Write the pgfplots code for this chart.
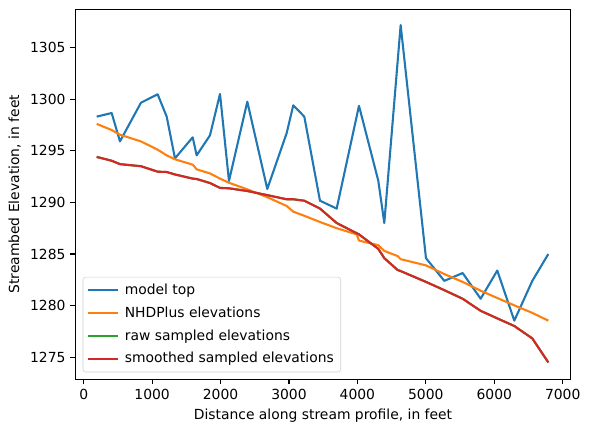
\documentclass[border=0pt]{standalone}
\usepackage{pgfplots}
\pgfplotsset{compat=1.18}
\usepackage{fontspec}
\setmainfont{DejaVu Sans}
\definecolor{tabblue}{HTML}{1F77B4}
\definecolor{taborange}{HTML}{FF7F0E}
\definecolor{tabgreen}{HTML}{2CA02C}
\definecolor{tabred}{HTML}{D62728}
\begin{document}
\begin{tikzpicture}
\begin{axis}[
  scale only axis,
  width=356.7pt, height=266.4pt,
  xmin=-123, xmax=7117, ymin=1272.87, ymax=1308.69,
  xtick={0,1000,...,7000}, ytick={1275,1280,...,1305},
  /pgf/number format/assume math mode=true,
  /pgf/number format/1000 sep={},
  tick align=outside, tick pos=left,
  major tick length=3.5pt,
  every tick/.style={black, line width=0.8pt},
  axis line style={line width=0.8pt},
  font=\fontsize{10pt}{12pt}\selectfont,
  xlabel={Distance along stream profile, in feet},
  ylabel={Streambed Elevation, in feet},
  legend cell align=left,
  legend style={draw=black!18, rounded corners=2pt, font=\fontsize{10pt}{12pt}\selectfont, at={(0.015,0.019)}, anchor=south west, inner xsep=3pt, inner ysep=3pt, row sep=3.3pt, column sep=2pt},
  legend image code/.code={\draw[#1] (0pt,0pt) -- (21.6pt,0pt);},
  every axis plot/.append style={line width=1.5pt, line join=round},
]
\addplot[tabblue] coordinates {
(190,1298.3) (409,1298.65) (530,1295.9) (837,1299.65) (1081,1300.46) (1213,1298.3)
(1334,1294.26) (1593,1296.3) (1651,1294.55) (1846,1296.5) (1992,1300.5) (2123,1292.07)
(2391,1299.75) (2683,1291.3) (2966,1296.7) (3063,1299.4) (3224,1298.3) (3453,1290.16)
(3697,1289.4) (4023,1299.35) (4305,1292.1) (4393,1288.0) (4632,1307.17) (5002,1284.6)
(5270,1282.4) (5538,1283.16) (5801,1280.67) (6044,1283.4) (6293,1278.55) (6556,1282.4)
(6790,1285.0)};
\addlegendentry{model top}
\addplot[taborange] coordinates {
(190,1297.6) (409,1297.0) (530,1296.55) (837,1295.9) (1081,1295.1) (1213,1294.55)
(1334,1294.17) (1593,1293.65) (1651,1293.2) (1846,1292.8) (1992,1292.3) (2123,1291.9)
(2391,1291.26) (2683,1290.5) (2966,1289.65) (3063,1289.1) (3224,1288.7) (3453,1288.1)
(3697,1287.5) (3990,1286.9) (4023,1286.3) (4305,1285.85) (4393,1285.3) (4588,1284.8)
(4632,1284.5) (5002,1283.9) (5270,1283.06) (5538,1282.3) (5801,1281.45) (6044,1280.74)
(6293,1280.03) (6556,1279.3) (6790,1278.55)};
\addlegendentry{NHDPlus elevations}
\addplot[tabgreen] coordinates {
(190,1294.4) (409,1294.03) (530,1293.7) (837,1293.5) (1081,1292.97) (1213,1292.94)
(1334,1292.7) (1593,1292.3) (1651,1292.26) (1846,1291.87) (1992,1291.4) (2123,1291.36)
(2391,1291.1) (2683,1290.7) (2966,1290.3) (3063,1290.3) (3224,1290.16) (3453,1289.4)
(3697,1288.0) (4023,1286.9) (4305,1285.5) (4393,1284.6) (4588,1283.45) (4632,1283.35)
(5002,1282.3) (5270,1281.5) (5538,1280.67) (5801,1279.5) (6044,1278.77) (6293,1278.03)
(6556,1276.83) (6790,1274.5)};
\addlegendentry{raw sampled elevations}
\addplot[tabred] coordinates {
(190,1294.4) (409,1294.03) (530,1293.7) (837,1293.5) (1081,1292.97) (1213,1292.94)
(1334,1292.7) (1593,1292.3) (1651,1292.26) (1846,1291.87) (1992,1291.4) (2123,1291.36)
(2391,1291.1) (2683,1290.7) (2966,1290.3) (3063,1290.3) (3224,1290.16) (3453,1289.4)
(3697,1288.0) (4023,1286.9) (4305,1285.5) (4393,1284.6) (4588,1283.45) (4632,1283.35)
(5002,1282.3) (5270,1281.5) (5538,1280.67) (5801,1279.5) (6044,1278.77) (6293,1278.03)
(6556,1276.83) (6790,1274.5)};
\addlegendentry{smoothed sampled elevations}
\end{axis}
\pgfresetboundingbox
\path ([xshift=-54.2pt,yshift=-37.9pt]current axis.south west) rectangle ([xshift=13.9pt,yshift=6.7pt]current axis.north east);
\end{tikzpicture}
\end{document}
